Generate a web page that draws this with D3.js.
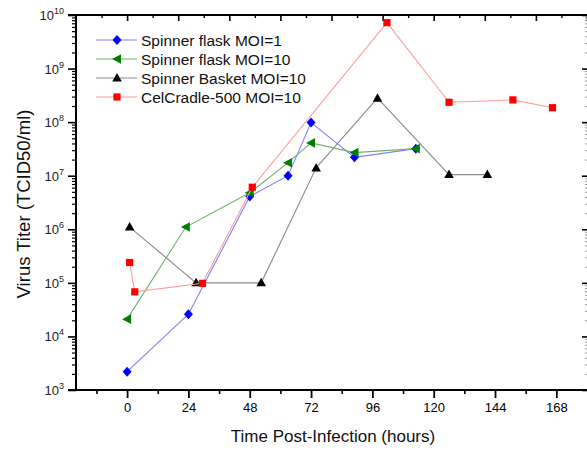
<!DOCTYPE html>
<html>
<head>
<meta charset="utf-8">
<script src="https://cdn.jsdelivr.net/npm/d3@7"></script>
<style>
  html, body { margin: 0; padding: 0; background: #fff; }
  svg { display: block; font-family: "Liberation Sans", Arial, sans-serif; }
</style>
</head>
<body>
<svg id="chart" width="587" height="450"></svg>
<script>
// ---- data ----
const seriesNames = ["Spinner flask MOI=1", "Spinner flask MOI=10", "Spinner Basket MOI=10", "CelCradle-500 MOI=10"];
const flask1Hours  = [0, 24, 48, 63, 72, 89, 113];
const flask1Titer  = [2.2e3, 2.6e4, 4.1e6, 1.0e7, 9.8e7, 2.2e7, 3.2e7];
const flask10Hours = [0, 23, 48, 63, 72, 89, 113];
const flask10Titer = [2.1e4, 1.1e6, 4.8e6, 1.75e7, 4.1e7, 2.7e7, 3.2e7];
const basketHours  = [1, 27, 52.5, 74, 98, 126, 141];
const basketTiter  = [1.1e6, 1.0e5, 1.0e5, 1.4e7, 2.8e8, 1.05e7, 1.05e7];
const cradleHours  = [1, 3, 29.5, 49, 101.7, 126, 151, 166.5];
const cradleTiter  = [2.4e5, 6.8e4, 9.8e4, 6.1e6, 7.2e9, 2.35e8, 2.6e8, 1.86e8];
const xTickLabels  = [0, 24, 48, 72, 96, 120, 144, 168];
const yDecades     = [3, 4, 5, 6, 7, 8, 9, 10];

const styles = [
  { marker: "#0000ff", line: "#8080ff", symbol: "diamond" },
  { marker: "#008000", line: "#70b070", symbol: "left" },
  { marker: "#000000", line: "#8a8a8a", symbol: "up" },
  { marker: "#ff0000", line: "#ff9c9c", symbol: "square" }
];
const series = [
  { name: seriesNames[0], xs: flask1Hours,  ys: flask1Titer },
  { name: seriesNames[1], xs: flask10Hours, ys: flask10Titer },
  { name: seriesNames[2], xs: basketHours,  ys: basketTiter },
  { name: seriesNames[3], xs: cradleHours,  ys: cradleTiter }
].map((s, i) => ({ ...s, ...styles[i], pts: s.xs.map((x, j) => [x, s.ys[j]]) }));

// ---- scales ----
const svg = d3.select("#chart");
const L = 76, R = 587, T = 15, B = 390;
const x = d3.scaleLinear().domain([-20, 180]).range([L, R]);
const y = d3.scaleLog().domain([1e3, 1e10]).range([B, T]);

// ---- axes ----
const minorY = [];
for (let k = 3; k < 10; k++) for (let m = 2; m <= 9; m++) minorY.push(m * Math.pow(10, k));
const majorY = yDecades.map(k => Math.pow(10, k));

function styleAxis(g, w) {
  g.selectAll(".domain").remove();
  g.selectAll("line").attr("stroke", "#000").attr("stroke-width", w);
}
// left
svg.append("g").attr("transform", `translate(${L},0)`)
  .call(d3.axisLeft(y).tickValues(minorY).tickSize(4).tickFormat(""))
  .call(g => styleAxis(g, 1.2));
svg.append("g").attr("transform", `translate(${L},0)`)
  .call(d3.axisLeft(y).tickValues(majorY).tickSize(8).tickFormat(""))
  .call(g => styleAxis(g, 1.6));
// right (inward)
svg.append("g").attr("transform", `translate(${R},0)`)
  .call(d3.axisLeft(y).tickValues(minorY).tickSize(2).tickFormat(""))
  .call(g => styleAxis(g, 1))
  .call(g => g.selectAll("line").attr("stroke", "#999"));
svg.append("g").attr("transform", `translate(${R},0)`)
  .call(d3.axisLeft(y).tickValues(majorY).tickSize(5).tickFormat(""))
  .call(g => styleAxis(g, 1.6));
// bottom
const minorX = d3.range(-12, 180, 24);
svg.append("g").attr("transform", `translate(0,${B})`)
  .call(d3.axisBottom(x).tickValues(minorX).tickSize(4).tickFormat(""))
  .call(g => styleAxis(g, 1.6));
svg.append("g").attr("transform", `translate(0,${B})`)
  .call(d3.axisBottom(x).tickValues(xTickLabels).tickSize(8).tickPadding(5).tickFormat(d3.format("d")))
  .call(g => styleAxis(g, 1.8))
  .call(g => g.selectAll("text").attr("font-size", 13).attr("fill", "#000")
    .attr("font-family", "'Liberation Sans', Arial, sans-serif"));
// top (inward)
svg.append("g").attr("transform", `translate(0,${T})`)
  .call(d3.axisBottom(x).tickValues(d3.range(-10, 180, 20)).tickSize(3).tickFormat(""))
  .call(g => styleAxis(g, 1.4));
svg.append("g").attr("transform", `translate(0,${T})`)
  .call(d3.axisBottom(x).tickValues(d3.range(0, 181, 20)).tickSize(6).tickFormat(""))
  .call(g => styleAxis(g, 1.6));

// frame lines
const frame = svg.append("g").attr("stroke", "#000").attr("fill", "none");
frame.append("line").attr("x1", L - 8).attr("x2", R).attr("y1", B).attr("y2", B).attr("stroke-width", 2);
frame.append("line").attr("x1", L - 8).attr("x2", R).attr("y1", T).attr("y2", T).attr("stroke-width", 2);
frame.append("line").attr("x1", L).attr("x2", L).attr("y1", T).attr("y2", B).attr("stroke-width", 2);

// y tick labels with superscripts
const yl = svg.append("g").attr("font-size", 13).attr("fill", "#222");
yDecades.forEach(k => {
  const t = yl.append("text").attr("x", 64).attr("y", y(Math.pow(10, k)) + 5).attr("text-anchor", "end");
  t.append("tspan").text("10");
  t.append("tspan").attr("dy", -6).attr("font-size", 9).text(k);
});

// axis titles
svg.append("text").attr("x", 333).attr("y", 442).attr("text-anchor", "middle")
  .attr("font-size", 17).attr("fill", "#111").text("Time Post-Infection (hours)");
svg.append("text").attr("transform", `translate(30,204) rotate(-90)`).attr("text-anchor", "middle")
  .attr("font-size", 18.5).attr("fill", "#111").text("Virus Titer (TCID50/ml)");

// ---- markers ----
function drawMarker(g, type, color, cx, cy) {
  if (type === "diamond") {
    g.append("path").attr("d", `M${cx},${cy - 5}L${cx + 4.5},${cy}L${cx},${cy + 5}L${cx - 4.5},${cy}Z`).attr("fill", color);
  } else if (type === "left") {
    g.append("path").attr("d", `M${cx - 5},${cy}L${cx + 4},${cy - 4.8}L${cx + 4},${cy + 4.8}Z`).attr("fill", color);
  } else if (type === "up") {
    g.append("path").attr("d", `M${cx},${cy - 5}L${cx + 4.8},${cy + 3.5}L${cx - 4.8},${cy + 3.5}Z`).attr("fill", color);
  } else {
    g.append("rect").attr("x", cx - 3.6).attr("y", cy - 3.6).attr("width", 7.2).attr("height", 7.2).attr("fill", color);
  }
}

const line = d3.line().x(d => x(d[0])).y(d => y(d[1]));
series.forEach(s => {
  const g = svg.append("g");
  g.append("path").attr("d", line(s.pts)).attr("fill", "none").attr("stroke", s.line).attr("stroke-width", 1.1);
  s.pts.forEach(p => drawMarker(g, s.symbol, s.marker, x(p[0]), y(p[1])));
});

// ---- legend ----
const leg = svg.append("g");
series.forEach((s, i) => {
  const ly = 40 + i * 19;
  leg.append("line").attr("x1", 96).attr("x2", 137).attr("y1", ly).attr("y2", ly)
    .attr("stroke", s.line).attr("stroke-width", 1.1);
  drawMarker(leg, s.symbol, s.marker, 117, ly);
  leg.append("text").attr("x", 141).attr("y", ly + 5.5).attr("font-size", 15.5).attr("fill", "#111").text(s.name);
});
</script>
</body>
</html>
